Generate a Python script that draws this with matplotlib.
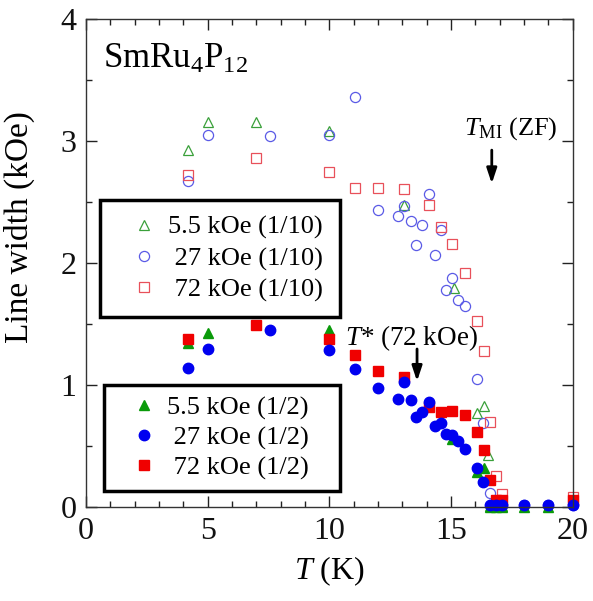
import matplotlib
matplotlib.use("Agg")
import matplotlib.pyplot as plt
from matplotlib.ticker import MultipleLocator

# ---- data ----
T_open_5p5 = [4.2, 5.0, 7.0, 10.0, 13.05, 15.1, 16.05, 16.35, 16.5, 16.6, 16.85, 17.1]
W_open_5p5 = [2.93, 3.16, 3.16, 3.08, 2.48, 1.80, 0.77, 0.83, 0.43, 0.01, 0.01, 0.01]

T_open_27 = [4.2, 5.0, 7.55, 10.0, 11.05, 12.0, 12.8, 13.05, 13.35, 13.55, 13.8, 14.1,
             14.35, 14.6, 14.8, 15.05, 15.3, 15.55, 16.05, 16.3, 16.6, 16.85, 17.1, 18.0, 19.0, 20.0]
W_open_27 = [2.67, 3.05, 3.04, 3.05, 3.36, 2.44, 2.39, 2.47, 2.35, 2.15, 2.31, 2.57,
             2.07, 2.27, 1.78, 1.88, 1.70, 1.65, 1.05, 0.69, 0.12, 0.02, 0.02, 0.02, 0.02, 0.02]

T_open_72 = [4.2, 7.0, 10.0, 11.05, 12.0, 13.05, 14.1, 14.6, 15.05, 15.55, 16.05, 16.35,
             16.6, 16.85, 17.1, 20.0]
W_open_72 = [2.72, 2.86, 2.75, 2.62, 2.62, 2.61, 2.48, 2.30, 2.16, 1.92, 1.53, 1.28,
             0.70, 0.26, 0.11, 0.08]

T_fill_5p5 = [4.2, 5.0, 10.0, 15.05, 16.05, 16.35, 16.6, 16.85, 17.1, 18.0, 19.0]
W_fill_5p5 = [1.35, 1.43, 1.45, 0.56, 0.29, 0.32, 0.0, 0.0, 0.0, 0.0, 0.0]

T_fill_27 = [4.2, 5.0, 7.55, 10.0, 11.05, 12.0, 12.8, 13.05, 13.35, 13.55, 13.8, 14.1,
             14.35, 14.6, 14.8, 15.05, 15.3, 15.55, 16.05, 16.3, 16.6, 16.85, 17.1, 18.0, 19.0, 20.0]
W_fill_27 = [1.14, 1.30, 1.45, 1.29, 1.13, 0.98, 0.89, 1.03, 0.88, 0.74, 0.78, 0.86,
             0.67, 0.69, 0.60, 0.59, 0.54, 0.48, 0.32, 0.21, 0.02, 0.02, 0.02, 0.02, 0.02, 0.02]

T_fill_72 = [4.2, 7.0, 10.0, 11.05, 12.0, 13.05, 14.1, 14.6, 15.05, 15.55, 16.05, 16.35,
             16.6, 16.85, 17.1, 20.0]
W_fill_72 = [1.38, 1.49, 1.38, 1.25, 1.12, 1.07, 0.82, 0.78, 0.79, 0.76, 0.62, 0.47,
             0.22, 0.06, 0.06, 0.06]

labels_open = ["5.5 kOe (1/10)", " 27 kOe (1/10)", " 72 kOe (1/10)"]
labels_fill = ["5.5 kOe (1/2)", " 27 kOe (1/2)", " 72 kOe (1/2)"]

T_MI = 16.67
T_star = 13.6

# ---- style ----
plt.rcParams['font.family'] = ['Liberation Serif', 'DejaVu Serif']
plt.rcParams['mathtext.fontset'] = 'custom'
plt.rcParams['mathtext.rm'] = 'Liberation Serif'
plt.rcParams['mathtext.it'] = 'Liberation Serif:italic'

GREEN_O = '#3aa03a'
BLUE_O = '#5a5ae6'
RED_O = '#e8505a'
GREEN_F = '#0a9a0a'
BLUE_F = '#0000f0'
RED_F = '#f00000'

fig = plt.figure(figsize=(5.93, 6.01), dpi=100)
ax = fig.add_axes([0.145, 0.156, 0.821, 0.812])

ms_o = 7.3
h1, = ax.plot(T_open_5p5, W_open_5p5, ls='none', marker='^', ms=ms_o, mfc='none', mec=GREEN_O, mew=0.9, clip_on=False, label=labels_open[0])
h2, = ax.plot(T_open_27, W_open_27, ls='none', marker='o', ms=ms_o, mfc='none', mec=BLUE_O, mew=0.9, clip_on=False, label=labels_open[1])
h3, = ax.plot(T_open_72, W_open_72, ls='none', marker='s', ms=ms_o - 0.5, mfc='none', mec=RED_O, mew=0.9, clip_on=False, label=labels_open[2])

g1, = ax.plot(T_fill_5p5, W_fill_5p5, ls='none', marker='^', ms=7.5, mfc=GREEN_F, mec=GREEN_F, clip_on=False, label=labels_fill[0])
g3, = ax.plot(T_fill_72, W_fill_72, ls='none', marker='s', ms=7, mfc=RED_F, mec=RED_F, clip_on=False, label=labels_fill[2])
g2, = ax.plot(T_fill_27, W_fill_27, ls='none', marker='o', ms=7.5, mfc=BLUE_F, mec=BLUE_F, clip_on=False, label=labels_fill[1])

ax.set_xlim(0, 20)
ax.set_ylim(0, 4)
ax.xaxis.set_major_locator(MultipleLocator(5))
ax.xaxis.set_minor_locator(MultipleLocator(1))
ax.yaxis.set_major_locator(MultipleLocator(1))
ax.yaxis.set_minor_locator(MultipleLocator(0.5))
ax.tick_params(which='both', direction='in', top=True, right=True, labelsize=23, colors='#222222')
ax.tick_params(which='major', length=8, width=1, pad=7)
ax.tick_params(which='minor', length=4, width=1)
for sp in ax.spines.values():
    sp.set_linewidth(1.0)
    sp.set_color('#333333')
for lab in ax.get_xticklabels() + ax.get_yticklabels():
    lab.set_color('#111111')

ax.set_xlabel('$T$ (K)', fontsize=23, labelpad=6)
ax.set_ylabel('Line width (kOe)', fontsize=24, labelpad=8)
ax.yaxis.set_label_coords(-0.105, 0.575)

ax.text(0.035, 0.90, 'SmRu$_4$P$_{12}$', transform=ax.transAxes, fontsize=25, ha='left', va='baseline')

ax.annotate('', xy=(T_MI, 2.63), xytext=(T_MI, 2.95),
            arrowprops=dict(arrowstyle='-|>,head_length=0.9,head_width=0.3', color='black', lw=2))
ax.text(17.45, 3.1, r'$T_{\mathrm{MI}}$ (ZF)', fontsize=19, ha='center', va='center')

ax.annotate('', xy=(T_star, 1.01), xytext=(T_star, 1.32),
            arrowprops=dict(arrowstyle='-|>,head_length=0.9,head_width=0.3', color='black', lw=2))
ax.text(13.35, 1.39, '$T$* (72 kOe)', fontsize=19.5, ha='center', va='center')

leg_kw = dict(fontsize=19, frameon=True, fancybox=False, edgecolor='black',
              handlelength=2.2, handletextpad=-0.2,
              borderaxespad=0, mode='expand', loc='upper left')
leg1 = ax.legend(handles=[h1, h2, h3], bbox_to_anchor=(0.029, 0.389, 0.493, 0.24),
                 borderpad=0.58, labelspacing=0.28, **leg_kw)
leg1.get_frame().set_linewidth(2.5)
leg1.get_frame().set_alpha(1)
ax.add_artist(leg1)
leg2 = ax.legend(handles=[g1, g2, g3], bbox_to_anchor=(0.037, 0.025, 0.485, 0.225),
                 borderpad=0.4, labelspacing=0.24, **leg_kw)
leg2.get_frame().set_linewidth(2.5)
leg2.get_frame().set_alpha(1)

fig.savefig('out.png', dpi=100)
